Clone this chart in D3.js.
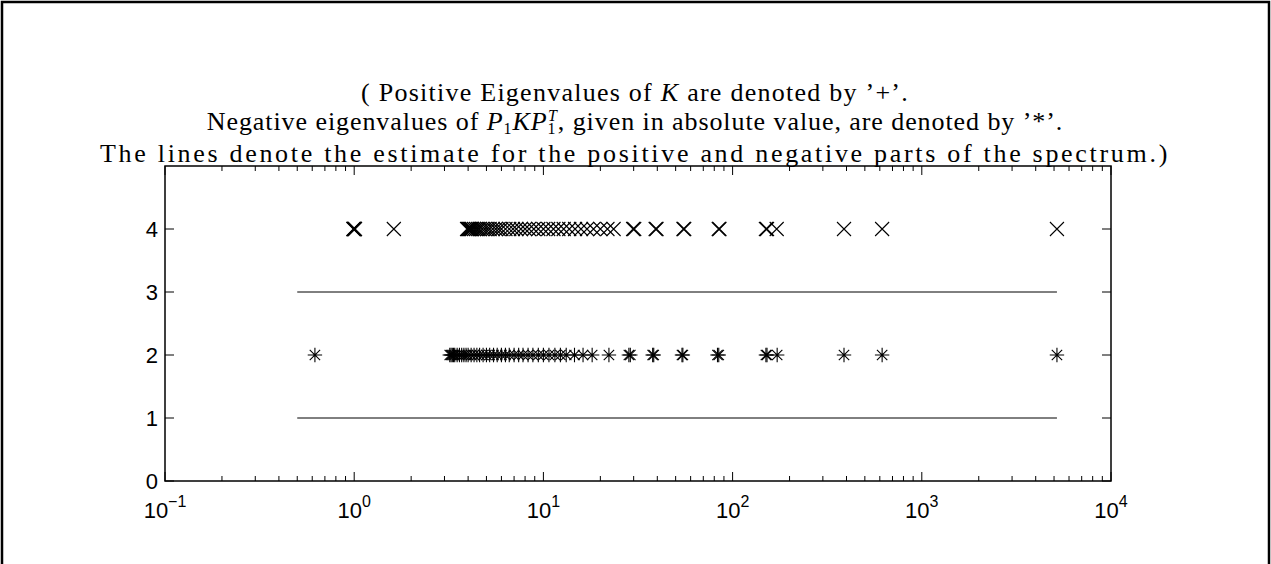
<!DOCTYPE html>
<html>
<head>
<meta charset="utf-8">
<script src="https://cdn.jsdelivr.net/npm/d3@7"></script>
<style>
  body { margin: 0; background: #fff; }
  svg { display: block; }
</style>
</head>
<body>
<div id="chart"></div>
<script>
// eigenvalues of K (drawn as 'x' at level 4)
var posEig = [0.99, 0.995, 1.0, 1.005, 1.01, 1.62,
  3.95, 4.0, 4.05, 4.1, 4.15, 4.2, 4.3, 4.4, 4.5, 4.6, 4.75, 4.9, 5.05, 5.2, 5.4, 5.6,
  5.8, 6.0, 6.3, 6.6, 6.9, 7.2, 7.6, 8.0, 8.4, 8.9, 9.4, 10.0, 10.6, 11.3, 12.0, 12.8,
  13.7, 14.7, 15.8, 17.0, 18.4, 20.0, 21.8, 23.5,
  29.8, 30.2, 39.2, 39.6, 55.0, 55.5, 84.5, 85.2, 150, 152, 171, 388, 617, 5180];
// |negative eigenvalues| of P1 K P1^T (drawn as '*' at level 2)
var negEig = [0.62,
  3.2, 3.25, 3.3, 3.35, 3.4, 3.5, 3.6, 3.7, 3.8, 3.9, 4.0, 4.15, 4.3, 4.45, 4.6, 4.8,
  5.0, 5.2, 5.45, 5.7, 6.0, 6.3, 6.6, 7.0, 7.4, 7.8, 8.3, 8.8, 9.4, 10.0, 10.7, 11.5,
  12.3, 13.2, 14.6, 16.2, 18.1, 22.2,
  28.3, 28.8, 37.8, 38.3, 54.0, 54.6, 83.2, 84.5, 150, 152, 172, 388, 617, 5180];
var posLevel = 4, negLevel = 2;
// estimate lines
var estLevels = [3, 1];
var estRange = [0.5, 5180];
// ticks
var xTickExps = [-1, 0, 1, 2, 3, 4];
var yTicks = [0, 1, 2, 3, 4];
// title widths, in px
var titleWidths = [548, 865, 1070];

var W = 1271, H = 564;
var margin = {top: 166, right: 160, bottom: 83, left: 165},
    width = W - margin.left - margin.right,
    height = H - margin.top - margin.bottom;

var svg = d3.select("#chart").append("svg")
    .attr("width", W)
    .attr("height", H);

// outer frame
svg.append("rect")
    .attr("x", 2).attr("y", 2)
    .attr("width", W - 4).attr("height", H + 20)
    .attr("fill", "none")
    .attr("stroke", "#000")
    .attr("stroke-width", 2.5);

var x = d3.scaleLog().domain([0.1, 10000]).range([0, width]);
var y = d3.scaleLinear().domain([0, 5]).range([height, 0]);

// title
var serif = "'Liberation Serif', 'DejaVu Serif', serif";
var title = svg.append("g").attr("font-family", serif).attr("fill", "#000")
    .attr("font-size", 26);
var cx = margin.left + width / 2 - 3;

var t1 = title.append("text").attr("x", cx).attr("y", 101).attr("text-anchor", "middle");
t1.append("tspan").text("( Positive Eigenvalues of ");
t1.append("tspan").attr("font-style", "italic").text("K");
t1.append("tspan").text(" are denoted by \u2019+\u2019.");

var t2 = title.append("text").attr("x", cx).attr("y", 130).attr("text-anchor", "middle");
t2.append("tspan").text("Negative eigenvalues of ");
t2.append("tspan").attr("font-style", "italic").text("P");
t2.append("tspan").attr("font-size", 16).attr("dy", 4).text("1");
t2.append("tspan").attr("font-style", "italic").attr("dy", -4).text("KP");
t2.append("tspan").attr("font-size", 16).attr("dy", 4).text("1");
t2.append("tspan").attr("font-size", 16).attr("font-style", "italic").attr("dx", -8.5).attr("dy", -13).text("T");
t2.append("tspan").attr("dy", 9).text(", given in absolute value, are denoted by \u2019*\u2019.");

var t3 = title.append("text").attr("x", cx).attr("y", 162).attr("text-anchor", "middle")
    .text("The lines denote the estimate for the positive and negative parts of the spectrum.)");

// widen each line with letter spacing to the reference width
[t1, t2, t3].forEach(function(t, i){
  var n = t.text().length;
  var w = t.node().getComputedTextLength();
  t.attr("letter-spacing", Math.max(0, (titleWidths[i] - w) / n));
});

var g = svg.append("g")
    .attr("transform", "translate(" + margin.left + "," + margin.top + ")");

// minor / major x ticks
var xMinor = [];
xTickExps.slice(0, -1).forEach(function(e){
  for (var k = 2; k <= 9; k++) xMinor.push(k * Math.pow(10, e));
});
var xMajor = xTickExps.map(function(e){ return Math.pow(10, e); });

function tickLines(sel, vals, len, yPos, dir){
  sel.selectAll(null).data(vals).enter().append("line")
    .attr("x1", function(d){ return x(d); })
    .attr("x2", function(d){ return x(d); })
    .attr("y1", yPos)
    .attr("y2", yPos + dir * len)
    .attr("stroke", "#000").attr("stroke-width", 1);
}
tickLines(g, xMinor, 5, height, -1);
tickLines(g, xMajor, 9, height, -1);
tickLines(g, xMinor, 5, 0, 1);
tickLines(g, xMajor, 9, 0, 1);

g.selectAll(".ytl").data(yTicks).enter().append("line")
    .attr("x1", 0).attr("x2", 9)
    .attr("y1", function(d){ return y(d); }).attr("y2", function(d){ return y(d); })
    .attr("stroke", "#000");
g.selectAll(".ytr").data(yTicks).enter().append("line")
    .attr("x1", width).attr("x2", width - 9)
    .attr("y1", function(d){ return y(d); }).attr("y2", function(d){ return y(d); })
    .attr("stroke", "#000");

// axis box
g.append("rect")
    .attr("width", width).attr("height", height)
    .attr("fill", "none").attr("stroke", "#000").attr("stroke-width", 1.5);

// tick labels
var sans = "'Liberation Sans', Arial, sans-serif";
g.selectAll(".ylab").data(yTicks).enter().append("text")
    .attr("x", -7).attr("y", function(d){ return y(d); })
    .attr("dy", "0.36em")
    .attr("text-anchor", "end")
    .attr("font-family", sans).attr("font-size", 22)
    .text(function(d){ return d; });

var xl = g.selectAll(".xlab").data(xTickExps).enter().append("text")
    .attr("x", function(d){ return x(Math.pow(10, d)); })
    .attr("y", height + 37)
    .attr("text-anchor", "middle")
    .attr("font-family", sans).attr("font-size", 22);
xl.append("tspan").text("10");
xl.append("tspan").attr("dy", -11).attr("font-size", 16)
    .text(function(d){ return d < 0 ? "\u2212" + (-d) : d; });

// estimate lines
g.selectAll(".est").data(estLevels).enter().append("line")
    .attr("x1", x(estRange[0])).attr("x2", x(estRange[1]))
    .attr("y1", function(d){ return y(d); }).attr("y2", function(d){ return y(d); })
    .attr("stroke", "#000").attr("stroke-width", 1);

// markers
var s = 7;
var xMark = "M" + (-s) + "," + (-s) + "L" + s + "," + s + "M" + (-s) + "," + s + "L" + s + "," + (-s);
var a = 5.2, r = 7.2;
var starMark = "M" + (-a) + "," + (-a) + "L" + a + "," + a + "M" + (-a) + "," + a + "L" + a + "," + (-a) +
    "M" + (-r) + ",0L" + r + ",0M0," + (-r) + "L0," + r;

g.selectAll(".pos").data(posEig).enter().append("path")
    .attr("d", xMark)
    .attr("transform", function(d){ return "translate(" + x(d) + "," + y(posLevel) + ")"; })
    .attr("fill", "none").attr("stroke", "#000").attr("stroke-width", 1.1);

g.selectAll(".neg").data(negEig).enter().append("path")
    .attr("d", starMark)
    .attr("transform", function(d){ return "translate(" + x(d) + "," + y(negLevel) + ")"; })
    .attr("fill", "none").attr("stroke", "#000").attr("stroke-width", 1.1);
</script>
</body>
</html>
